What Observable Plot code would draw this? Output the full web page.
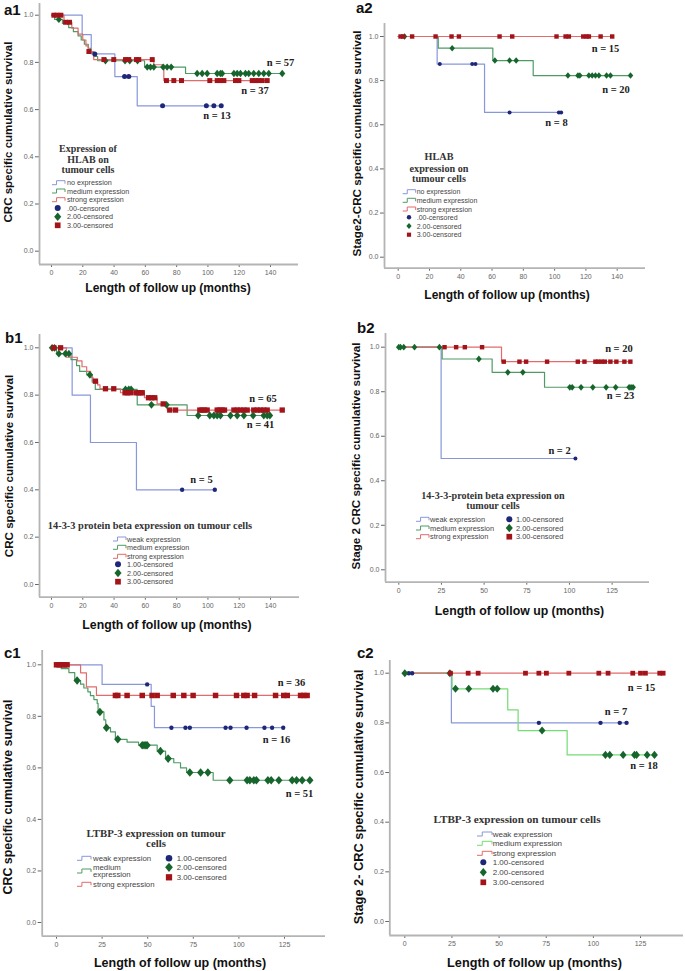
<!DOCTYPE html>
<html><head><meta charset="utf-8">
<script src="https://cdn.jsdelivr.net/npm/d3@7"></script>
<script src="https://cdn.jsdelivr.net/npm/@observablehq/plot@0.6"></script>
<style>
body{margin:0;background:#fff;}
#root{position:relative;width:685px;height:971px;overflow:hidden;background:#fff;}
#root svg{position:absolute;}
</style></head><body><div id="root"></div>
<script>
// ---------------- DATA (months, survival) ----------------
const xTicks140 = [0,20,40,60,80,100,120,140];
const xTicks125 = [0,25,50,75,100,125];
const yTicks = [0,0.2,0.4,0.6,0.8,1.0];

// a1 : HLAB, all stages
const a1_noT=[19.6,25.4,40.5,54.8], a1_noS=[0.918,0.836,0.74,0.616];
const a1_noC=[27.7,46.7,49.4,71,99,103.8,108.5];
const a1_medT=[2,7,11,14,17,19,21,23.5,25,27,29.5,59.5,85.7];
const a1_medS=[0.982,0.965,0.947,0.93,0.912,0.895,0.877,0.86,0.842,0.825,0.807,0.78,0.753];
const a1_medC=[4.7,34.5,47,50,55,61.2,63.3,65.4,71.4,73.9,76.5,93.1,96.3,99.5,105.9,108,109.1,116.6,118.7,120.8,124,126.1,129.3,132.5,135.7,138.9,147.5];
const a1_strT=[8,13,17,20,22,23.5,27,65.4,71.8];
const a1_strS=[0.97,0.945,0.92,0.895,0.87,0.846,0.812,0.79,0.723];
const a1_strC=[1.5,3.5,6,9,11.5,23.9,33.5,39.8,47.3,49.4,54.3,55.8,64.4,73.5,78.2,83.1,101.2,105.9,108,110.2,117.6,119.8,128.3,130.4,132.5,134.7,137.9];
const a1_n=["n = 57","n = 37","n = 13"];

// a2 : HLAB, stage 2
const a2_noT=[24.9,55.2], a2_noS=[0.875,0.656];
const a2_noC=[26.6,47.3,49.4,71.2,102.7,104.2];
const a2_medT=[25.6,60.5,86.3], a2_medS=[0.947,0.891,0.823];
const a2_medC=[4,34.5,61.8,71.2,75.4,108.5,114.9,116.1,121.9,124,126.1,128.3,133.2,135.7,148.5];
const a2_strT=[], a2_strS=[];
const a2_strC=[1.5,3.2,8.9,23.9,34.1,38.8,64.8,72.9,101.2,107,109.1,118.3,120.4,121.9,129.4,136.8];
const a2_n=["n = 15","n = 20","n = 8"];

// b1 : 14-3-3 protein beta, all stages
const b1_weakT=[13.2,24.9,54.3], b1_weakS=[0.8,0.6,0.4];
const b1_weakC=[83.5,104.4];
const b1_medT=[3.2,12.5,16,18,22.5,26,28,54.8,86.7];
const b1_medS=[0.975,0.95,0.925,0.9,0.886,0.855,0.824,0.759,0.714];
const b1_medC=[0.4,1.9,4.7,8.9,11.1,24.5,47.3,49.4,50.9,63.9,73.5,93.8,101.2,103.8,105.9,108,114.4,118.7,123,128.9,135.7,137.9,139.6];
const b1_strT=[9.5,16.5,19.5,22.5,25,26.5,29.5,31,44.1,59.4,67.5,74];
const b1_strS=[0.96,0.945,0.92,0.9,0.875,0.859,0.843,0.827,0.81,0.789,0.763,0.737];
const b1_strC=[1.5,5.8,28.1,34.5,39.8,47,48.5,50.5,54,55.5,57,58,62,64,66,71.4,75.6,79.3,94.8,96.3,97.8,99.5,105.9,107.4,109.1,110.6,116.6,118.7,120.8,123,125.1,129.3,131.5,133.6,135.7,137.9,147.5];
const b1_n=["n = 65","n = 41","n = 5"];

// b2 : 14-3-3 protein beta, stage 2
const b2_weakT=[24.8], b2_weakS=[0.5];
const b2_weakC=[103.5];
const b2_medT=[25.4,54.7,85.4], b2_medS=[0.947,0.887,0.82];
const b2_medC=[0,1,2.9,9.2,23.8,46.9,63.9,72.7,100.2,101.6,106.8,113.7,121.5,127.1,135,136.1,137.3];
const b2_strT=[60.2], b2_strS=[0.935];
const b2_strC=[26.8,33.6,38.7,48.8,61.5,70.7,74.6,86.9,104.9,108.8,115.2,116.8,118.8,120.7,124,127.5,132.2,135.7];
const b2_n=["n = 20","n = 23","n = 2"];

// c1 : LTBP-3, all stages
const c1_weakT=[25,51.9,53.7], c1_weakS=[0.924,0.839,0.756];
const c1_weakC=[49.7,63,70.7,73.1,92.7,95.4,104.2,114,118.2,124.3];
const c1_medT=[2.6,6.8,10,13.2,15,17.2,18.6,20.5,22.3,22.8,26,27,29.6,32.3,38.7,45,55.2,59.8,64.3,68,71.3,85.9];
const c1_medS=[0.985,0.97,0.939,0.925,0.91,0.895,0.88,0.865,0.85,0.817,0.786,0.756,0.74,0.711,0.70,0.688,0.665,0.636,0.62,0.60,0.582,0.552];
const c1_medC=[11.3,23.8,27.4,33.6,47,48,49,49.7,57,61.2,73.1,79,83,95,104.5,106,108.2,109.6,115.9,117.7,121.9,129.2,131.6,134.7,138.9];
const c1_strT=[13.2,16.4,21.9], c1_strS=[0.969,0.914,0.881];
const c1_strC=[0,1.5,3,4.5,5.8,32.3,33.6,38.7,47,52.4,55.2,64,69.8,74.9,87.2,98.7,102.7,104.5,108.6,120.1,124.6,126.5,133.8,135.6,137.4];
const c1_n=["n = 36","n = 16","n = 51"];

// c2 : LTBP-3, stage 2
const c2_weakT=[24.7], c2_weakS=[0.8];
const c2_weakC=[2.1,3.9,71.1,103.8,114,117.6];
const c2_medT=[25.1,54.6,60.1,86.1], c2_medS=[0.937,0.852,0.769,0.671];
const c2_medC=[0,23.9,26.9,33.9,46.8,49,72.8,106.4,108.7,115.8,121.8,122.9,128.5,132.4];
const c2_strT=[], c2_strS=[];
const c2_strC=[24.2,33.6,38.9,64,71.1,75.1,87,102.9,107.8,120.9,125,127.6,135.2,137];
const c2_n=["n = 15","n = 7","n = 18"];

// texts
const yTitleAll = "CRC specific cumulative survival";
const xTitle = "Length of follow up (months)";
const lgA1Title=["Expression of","HLAB on","tumour cells"];
const lgA2Title=["HLAB","expression on","tumour cells"];
const lgB1Title=["14-3-3 protein beta expression on tumour cells"];
const lgB2Title=["14-3-3-protein beta expression on","tumour cells"];
const lgC1Title=["LTBP-3 expression on tumour","cells"];
const lgC2Title=["LTBP-3 expression on tumour cells"];
const lgStepsA=["no expression","medium expression","strong expression"];
const lgStepsB=["weak expression","medium expression","strong expression"];
const lgStepsC1=["weak expression",["medium","expression"],"strong expression"];
const lgMarksA=[".00-censored","2.00-censored","3.00-censored"];
const lgMarksB=["1.00-censored","2.00-censored","3.00-censored"];

// ---------------- STYLE ----------------
const SANS="Liberation Sans, Arial, sans-serif";
const SERIF="Liberation Serif, 'Times New Roman', serif";
const AXIS="#b4b4b4";
const C={blueLine:"#8896da",blueDot:"#1f2878",greenLine:"#4f9b66",greenDot:"#17652d",
         greenLine2:"#74dc74",redLine:"#e26b6b",redDot:"#a3141a"};
const diamondSym={draw(ctx,size){const r=Math.sqrt(size/Math.PI);const h=r*1.3,w=r*1.1;
  ctx.moveTo(0,-h);ctx.lineTo(w,0);ctx.lineTo(0,h);ctx.lineTo(-w,0);ctx.closePath();}};

function grp(t,s,c,kind,gl){
  if(kind==="b") return {t,s,c,line:C.blueLine,dot:C.blueDot,sym:"circle",k:"c"};
  if(kind==="g") return {t,s,c,line:gl||C.greenLine,dot:C.greenDot,sym:diamondSym,k:"d"};
  return {t,s,c,line:C.redLine,dot:C.redDot,sym:"square",k:"s"};
}
function survAt(g,time){let v=1;g.t.forEach((ti,i)=>{if(ti<=time)v=g.s[i];});return v;}
function stepPoints(g){const pts=[{x:0,y:1}];g.t.forEach((t,i)=>pts.push({x:t,y:g.s[i]}));
  const end=d3.max([...g.t,...g.c]);pts.push({x:end,y:g.s.length?g.s[g.s.length-1]:1});return pts;}
function censorPoints(g){return g.c.map(t=>({x:t,y:survAt(g,t)}));}

const panels=[
 {left:0,top:0,width:340,height:315,L:39,R:298,T:3,B:264,x0:51,xk:219/140,y1:14.7,y0:250.7,xticks:xTicks140,
  groups:[grp(a1_noT,a1_noS,a1_noC,"b"),grp(a1_medT,a1_medS,a1_medC,"g"),grp(a1_strT,a1_strS,a1_strC,"r")],
  r:{c:2.5,d:2.8,s:2.8}, n:a1_n, nPos:[[146.4,0.799],[130.1,0.681],[105.8,0.575]]},
 {left:340,top:0,width:345,height:315,L:384,R:645,T:23,B:267.7,x0:397.7,xk:219/140,y1:36,y0:256.7,xticks:xTicks140,
  groups:[grp(a2_noT,a2_noS,a2_noC,"b"),grp(a2_medT,a2_medS,a2_medC,"g"),grp(a2_strT,a2_strS,a2_strC,"r")],
  r:{c:2,d:2.5,s:2.5}, n:a2_n, nPos:[[132.5,0.946],[139.2,0.76],[101.2,0.61]]},
 {left:0,top:315,width:340,height:325,L:39,R:299,T:334,B:596.7,x0:51,xk:219/140,y1:347.3,y0:584,xticks:xTicks140,
  groups:[grp(b1_weakT,b1_weakS,b1_weakC,"b"),grp(b1_medT,b1_medS,b1_medC,"g"),grp(b1_strT,b1_strS,b1_strC,"r")],
  r:{c:2.2,d:3,s:3}, n:b1_n, nPos:[[135.2,0.786],[133.6,0.676],[95.9,0.444]]},
 {left:340,top:315,width:345,height:325,L:385,R:649,T:333,B:581.7,x0:398.3,xk:213.3/125,y1:346.7,y0:569.3,xticks:xTicks125,
  groups:[grp(b2_weakT,b2_weakS,b2_weakC,"b"),grp(b2_medT,b2_medS,b2_medC,"g"),grp(b2_strT,b2_strS,b2_strC,"r")],
  r:{c:2,d:2.6,s:2.5}, n:b2_n, nPos:[[129,0.994],[129.9,0.783],[94.2,0.536]]},
 {left:0,top:640,width:340,height:331,L:41.7,R:325,T:650,B:935.7,x0:56,xk:228/125,y1:664.3,y0:922,xticks:xTicks125,
  groups:[grp(c1_weakT,c1_weakS,c1_weakC,"b"),grp(c1_medT,c1_medS,c1_medC,"g"),grp(c1_strT,c1_strS,c1_strC,"r")],
  r:{c:2.2,d:3.3,s:3.1}, n:c1_n, nPos:[[128.8,0.931],[120.6,0.71],[133.2,0.5]]},
 {left:340,top:640,width:345,height:331,L:389.3,R:683,T:660,B:935,x0:404.3,xk:235.7/125,y1:672.7,y0:921,xticks:xTicks125,
  groups:[grp(c2_weakT,c2_weakS,c2_weakC,"b"),grp(c2_medT,c2_medS,c2_medC,"g",C.greenLine2),grp(c2_strT,c2_strS,c2_strC,"r")],
  r:{c:2.2,d:3.1,s:2.7}, n:c2_n, nPos:[[125.5,0.942],[112,0.846],[126.9,0.628]]}
];

const root=document.getElementById("root");

panels.forEach(p=>{
  const xd=[(p.L-p.x0)/p.xk,(p.R-p.x0)/p.xk];
  const yk=p.y0-p.y1;
  const yd=[(p.y0-p.B)/yk,(p.y0-p.T)/yk];
  const marks=[
    Plot.ruleX([xd[0]],{stroke:AXIS,strokeWidth:1.8}),
    Plot.ruleY([yd[0]],{stroke:AXIS,strokeWidth:1.8})
  ];
  p.groups.forEach(g=>marks.push(Plot.line(stepPoints(g),{x:"x",y:"y",curve:"step-after",stroke:g.line,strokeWidth:1.2})));
  p.groups.forEach(g=>marks.push(Plot.dot(censorPoints(g),{x:"x",y:"y",symbol:g.sym,r:p.r[g.k],fill:g.dot,stroke:"none"})));
  const nd=p.n.map((t,i)=>({t,x:p.nPos[i][0],y:p.nPos[i][1]}));
  marks.push(Plot.text(nd,{x:"x",y:"y",text:"t",fontFamily:SERIF,fontWeight:"bold",fontSize:10.5,fill:"#222"}));
  const svg=Plot.plot({
    width:p.width,height:p.height,
    marginLeft:p.L-p.left,marginRight:p.left+p.width-p.R,marginTop:p.T-p.top,marginBottom:p.top+p.height-p.B,
    style:{fontFamily:SANS,fontSize:"7px",color:"#666",background:"transparent",overflow:"visible"},
    x:{domain:xd,ticks:p.xticks,tickSize:3,tickPadding:2.5,label:null},
    y:{domain:yd,ticks:yTicks,tickFormat:d3.format(".1f"),tickSize:4,tickPadding:2,label:null},
    marks
  });
  svg.style.left=p.left+"px";svg.style.top=p.top+"px";
  root.appendChild(svg);
});

// ---------------- overlay texts / legends ----------------
const ov=d3.select(root).append("svg").attr("width",685).attr("height",971)
  .style("left","0px").style("top","0px").style("overflow","visible");

[["a1",4,15],["a2",356,13.3],["b1",5,343],["b2",357,333],["c1",4,658],["c2",357,658]].forEach(([t,x,y])=>
  ov.append("text").attr("x",x).attr("y",y).attr("font-family",SANS).attr("font-weight","bold").attr("font-size",15).attr("fill","#111").text(t));

[[168,292,12],[507,298.5,12],[167,628.5,12.3],[519.5,614.5,12.3],[180,967,12.5],[534.5,967,12.7]].forEach(([x,y,fs])=>
  ov.append("text").attr("x",x).attr("y",y).attr("text-anchor","middle").attr("font-family",SANS).attr("font-weight","bold").attr("font-size",fs).attr("fill","#111").text(xTitle));

[[8.3,132,yTitleAll,11.5],[356.7,143.5,"Stage2-CRC specific cumulative survival",11.7],[8,466,yTitleAll,11.6],
 [355.7,456,"Stage 2 CRC specific cumulative survival",11.6],[8,797,yTitleAll,12.4],[358,797,"Stage 2- CRC specific cumulative survival",12.8]]
 .forEach(([x,y,t,fs])=>ov.append("text").attr("transform",`translate(${x},${y}) rotate(-90)`).attr("text-anchor","middle")
   .attr("dominant-baseline","central").attr("font-family",SANS).attr("font-weight","bold").attr("font-size",fs).attr("fill","#111").text(t));

const legends=[
 {title:lgA1Title,tx:88,tys:[148,159,169],tfs:10,fs:7.2,steps:lgStepsA,sx:52,sw:13,stx:67,sys:[182.7,191,199.7],
  marks:lgMarksA,mx:57.7,mtx:67,mys:[208,216.7,225.3],mr:3,green:C.greenLine},
 {title:lgA2Title,tx:439,tys:[156.7,168.3,178.3],tfs:10.2,fs:7,steps:lgStepsA,sx:402.7,sw:13,stx:416.7,sys:[191.7,200.3,209],
  marks:lgMarksA,mx:409,mtx:416.7,mys:[217.3,226,234.7],mr:2.2,green:C.greenLine},
 {title:lgB1Title,tx:150,tys:[525],tfs:10.4,fs:7.2,steps:lgStepsB,sx:113,sw:13,stx:127,sys:[539,547.3,556.3],
  marks:lgMarksB,mx:118,mtx:127,mys:[564.3,573,581.7],mr:3,green:C.greenLine},
 {title:lgB2Title,tx:493,tys:[495,505.7],tfs:10.1,fs:7.4,steps:lgStepsB,sx:416,sw:13,stx:430,sys:[519.3,528,536.7],
  marks:lgMarksB,mx:509.3,mtx:516,mys:[519.3,528,536.7],mr:3,green:C.greenLine},
 {title:lgC1Title,tx:156,tys:[832.7,843.3],tfs:10.8,fs:7.8,steps:lgStepsC1,sx:77,sw:14,stx:93,sys:[858.3,871,884.3],
  marks:lgMarksB,mx:169,mtx:176.7,mys:[858.3,867.3,877.3],mr:3.3,green:C.greenLine},
 {title:lgC2Title,tx:517,tys:[819.3],tfs:11.2,fs:8,steps:lgStepsB,sx:477,sw:15,stx:492.7,sys:[834,843.3,853.3],
  marks:lgMarksB,mx:483.3,mtx:492.7,mys:[862.3,872.3,882.3],mr:3,green:C.greenLine2}
];
legends.forEach(L=>{
  L.title.forEach((t,i)=>ov.append("text").attr("x",L.tx).attr("y",L.tys[i]).attr("text-anchor","middle")
    .attr("dominant-baseline","central").attr("font-family",SERIF).attr("font-weight","bold").attr("font-size",L.tfs).attr("fill","#333").text(t));
  const stepCols=[C.blueLine,L.green,C.redLine];
  L.steps.forEach((lab,i)=>{
    const y=L.sys[i],x=L.sx,w=L.sw;
    ov.append("path").attr("d",`M${x},${y+2}H${x+w*0.35}V${y-2}H${x+w}V${y+1}`).attr("fill","none").attr("stroke",stepCols[i]).attr("stroke-width",1);
    const lines=Array.isArray(lab)?lab:[lab];
    lines.forEach((ln,j)=>ov.append("text").attr("x",L.stx).attr("y",y+(j-(lines.length-1)/2)*7.7).attr("dominant-baseline","central")
      .attr("font-family",SANS).attr("font-size",L.fs).attr("fill","#444").text(ln));
  });
  const syms=[[d3.symbolCircle,C.blueDot],[diamondSym,C.greenDot],[d3.symbolSquare,C.redDot]];
  L.marks.forEach((lab,i)=>{
    const y=L.mys[i];
    ov.append("path").attr("transform",`translate(${L.mx},${y})`).attr("d",d3.symbol().type(syms[i][0]).size(Math.PI*L.mr*L.mr*(i===0?1:1.15))())
      .attr("fill",syms[i][1]);
    ov.append("text").attr("x",L.mtx).attr("y",y).attr("dominant-baseline","central").attr("font-family",SANS).attr("font-size",L.fs).attr("fill","#444").text(lab);
  });
});
</script></body></html>
